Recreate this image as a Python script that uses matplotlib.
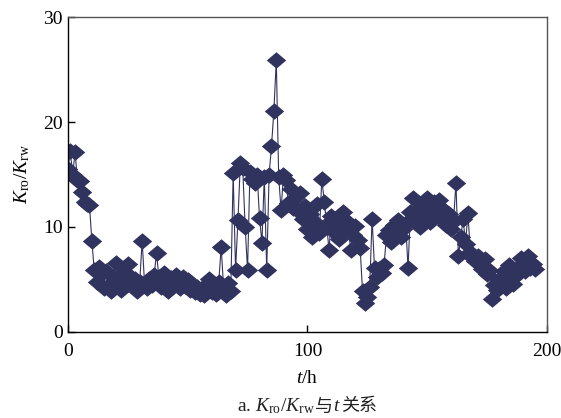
import numpy as np
import matplotlib.pyplot as plt
from matplotlib.path import Path
from matplotlib.offsetbox import TextArea, HPacker, AnchoredOffsetbox

plt.rcParams['font.family'] = ['Liberation Serif', 'Noto Sans CJK SC']
plt.rcParams['mathtext.fontset'] = 'custom'
plt.rcParams['mathtext.rm'] = 'Liberation Serif'
plt.rcParams['mathtext.it'] = 'Liberation Serif:italic'

# time in hours and permeability ratio
t = np.arange(0, 196)
ratio = [
    15.5, 17.2, 15.0, 17.1, 14.5, 14.4, 13.3, 12.4, 12.2, 12.1,
    8.7, 5.9, 4.8, 6.2, 5.5, 4.2, 5.8, 4.5, 3.9, 5.2,
    6.6, 4.8, 4.0, 5.6, 4.6, 6.5, 5.3, 4.4, 5.0, 3.9,
    4.8, 8.7, 4.6, 4.2, 5.0, 4.5, 5.4, 7.5, 5.2, 4.3,
    5.6, 4.8, 3.9, 5.1, 4.7, 5.4, 4.6, 4.2, 5.2, 4.4,
    4.9, 4.0, 4.6, 3.8, 4.3, 3.6, 4.1, 3.5, 4.6, 5.0,
    3.8, 4.4, 3.6, 4.8, 8.1, 4.2, 3.5, 4.7, 3.9, 15.1,
    5.9, 10.7, 16.1, 15.6, 10.0, 5.9, 15.2, 14.6, 14.2, 15.0,
    10.9, 8.5, 14.8, 5.9, 15.0, 17.7, 21.1, 25.9, 14.8, 11.6,
    15.0, 14.5, 12.3, 13.6, 11.8, 12.8, 11.5, 13.2, 10.8, 12.0,
    9.8, 11.2, 9.0, 10.5, 12.2, 9.4, 14.6, 12.4, 10.3, 7.8,
    11.0, 9.5, 10.8, 8.9, 10.2, 11.4, 9.6, 10.5, 7.8, 9.2,
    10.1, 8.8, 8.0, 3.9, 2.8, 3.3, 4.3, 10.8, 6.1, 5.2,
    6.0, 5.6, 6.4, 9.2, 9.7, 8.6, 10.2, 9.4, 10.7, 9.0,
    9.8, 10.4, 6.1, 11.4, 12.8, 10.6, 11.6, 10.0, 12.2, 11.0,
    12.8, 10.5, 11.8, 12.4, 11.1, 12.6, 10.8, 11.6, 10.2, 11.2,
    9.8, 10.6, 14.2, 7.2, 9.0, 10.8, 8.4, 11.3, 7.6, 7.0,
    6.8, 7.2, 6.5, 6.0, 6.9, 5.5, 5.9, 3.1, 4.5, 4.0,
    5.0, 4.6, 5.8, 4.2, 6.4, 5.2, 4.6, 6.0, 5.5, 7.0,
    6.2, 5.8, 7.2, 6.1, 6.5, 6.0,
]

navy = '#31335f'
diamond = Path([(-1, 0), (0, 0.85), (1, 0), (0, -0.85), (-1, 0)])

fig = plt.figure(figsize=(5.61, 4.18), dpi=100)
ax = fig.add_axes([0.121, 0.206, 0.854, 0.753])

ax.plot(t, ratio, color=navy, lw=0.8, marker=diamond, markersize=14,
        markerfacecolor=navy, markeredgecolor=navy, markeredgewidth=0)

ax.set_xlim(0, 200)
ax.set_ylim(0, 30)
ax.set_xticks([0, 100, 200])
ax.set_yticks([0, 10, 20, 30])
ax.tick_params(direction='in', length=5, width=1, labelsize=14, top=False, right=False)
ax.tick_params(axis='x', pad=8)
for s in ['top', 'right']:
    ax.spines[s].set_color('#555555')
for s in ax.spines.values():
    s.set_linewidth(1)

ax.set_xlabel('$t$/h', fontsize=14, labelpad=7)
ax.set_ylabel(r'$K_{\mathrm{ro}}/K_{\mathrm{rw}}$', fontsize=14, labelpad=8)

# caption: mixed serif math and Chinese text
cap = dict(fontsize=14, color='#222222')
cn = dict(fontsize=13, color='#222222', family='Noto Sans CJK SC')
parts = [
    TextArea(r'a. $K_{\mathrm{ro}}/K_{\mathrm{rw}}$', textprops=cap),
    TextArea('与', textprops=cn),
    TextArea('$t$', textprops=cap),
    TextArea('关系', textprops=cn),
]
box = HPacker(children=parts, sep=0, pad=0, align='baseline')
anchored = AnchoredOffsetbox(loc='center', child=box, frameon=False, pad=0,
                             bbox_to_anchor=(0.547, 0.028),
                             bbox_transform=fig.transFigure, borderpad=0)
fig.add_artist(anchored)

plt.savefig('out.png', dpi=100)
